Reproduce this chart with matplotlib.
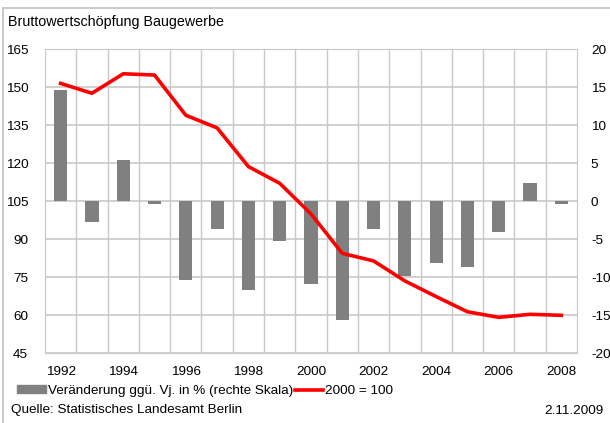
import matplotlib.pyplot as plt
from matplotlib.lines import Line2D
from matplotlib.patches import Patch

plt.rcParams["font.family"] = ["Liberation Sans", "DejaVu Sans"]

years = list(range(1992, 2009))
# Veränderung ggü. Vorjahr in % (rechte Skala)
change = [14.7, -2.7, 5.4, -0.4, -10.4, -3.6, -11.7, -5.2, -10.9,
          -15.7, -3.6, -9.8, -8.1, -8.7, -4.1, 2.4, -0.4]
# Index 2000 = 100 (linke Skala)
index = [151.6, 147.7, 155.4, 154.9, 139.0, 134.0, 118.7, 112.1, 100.0,
         84.4, 81.4, 73.5, 67.3, 61.3, 59.1, 60.3, 59.9]

left_ticks = [45, 60, 75, 90, 105, 120, 135, 150, 165]
right_ticks = [-20, -15, -10, -5, 0, 5, 10, 15, 20]

grid_col = "#c8c8c8"
bar_col = "#808080"
fs = 9.7
pos = list(range(len(years)))

fig = plt.figure(figsize=(6.1, 4.23), dpi=100)
ax = fig.add_axes([45 / 610, 1 - 353 / 423, 532 / 610, 303.5 / 423])

# bars on the right scale (primary axes)
ax.bar(pos, change, width=0.42, color=bar_col, zorder=2)
ax.set_ylim(-20, 20)
ax.set_yticks(right_ticks)
ax.set_yticklabels([str(t) for t in right_ticks])
ax.set_xlim(-0.5, len(years) - 0.5)
ax.set_xticks(pos[::2])
ax.set_xticklabels([str(y) for y in years[::2]])
ax.set_xticks([p + 0.5 for p in pos[:-1]], minor=True)
ax.grid(True, which="minor", axis="x", color=grid_col, lw=1)
ax.grid(True, which="major", axis="y", color=grid_col, lw=1.2)
ax.set_axisbelow(True)
for s in ax.spines.values():
    s.set_color(grid_col)

# index line on the left scale
ax2 = ax.twinx()
ax2.plot(pos, index, color="#ff0000", lw=2.6, solid_joinstyle="round")
ax2.set_ylim(45, 165)
ax2.set_yticks(left_ticks)
ax2.yaxis.tick_left()
ax2.tick_params(length=0, labelsize=fs, pad=12)
for s in ax2.spines.values():
    s.set_visible(False)

ax.yaxis.tick_right()
ax.tick_params(which="both", length=0, labelsize=fs, colors="black")
ax.tick_params(axis="y", pad=10)
ax.tick_params(axis="x", pad=9)

fig.text(8 / 610, 1 - 22 / 423, "Bruttowertschöpfung Baugewerbe",
         fontsize=10.3, va="center", ha="left")

handles = [Patch(color=bar_col), Line2D([0], [0], color="#ff0000", lw=2.6)]
labels = ["Veränderung ggü. Vj. in % (rechte Skala)", "2000 = 100"]
fig.legend(handles, labels, ncol=2, loc="center left",
           bbox_to_anchor=(8 / 610, 1 - 391 / 423), frameon=False,
           fontsize=fs, handlelength=2.1, handleheight=0.55,
           handletextpad=0.15, columnspacing=0.15, borderpad=0.2)

fig.text(11 / 610, 1 - 410 / 423, "Quelle: Statistisches Landesamt Berlin",
         fontsize=fs, va="center", ha="left")
fig.text(604 / 610, 1 - 411 / 423, "2.11.2009",
         fontsize=fs, va="center", ha="right")

# outer frame (top and left edges)
fig.add_artist(Line2D([3 / 610, 1], [1 - 8 / 423, 1 - 8 / 423], color="#c0c0c0", lw=1.2))
fig.add_artist(Line2D([3 / 610, 3 / 610], [0, 1 - 8 / 423], color="#c0c0c0", lw=1.2))

fig.savefig("out.png", dpi=100)
